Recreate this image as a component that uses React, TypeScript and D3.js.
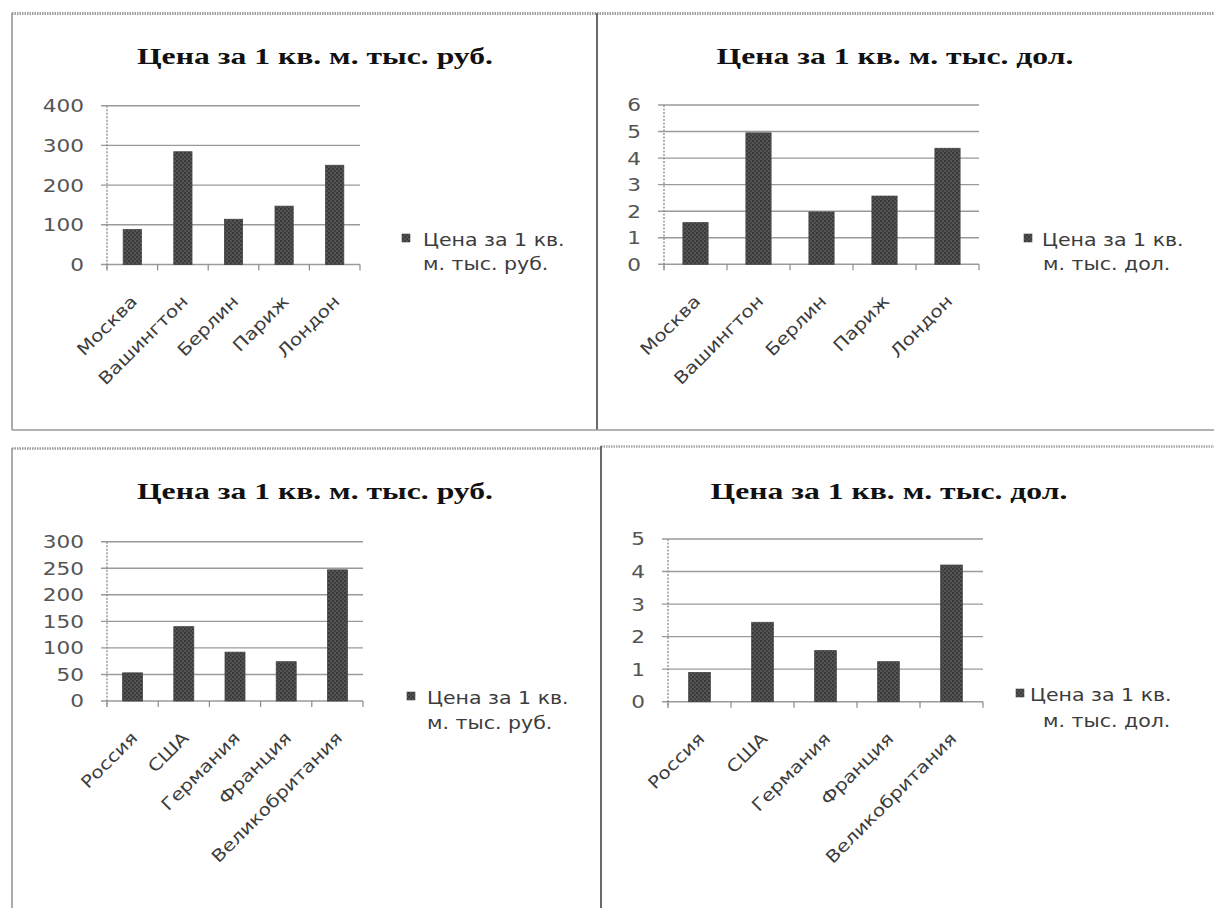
import React from "react";
import * as d3 from "d3";

// ---------- data ----------
const cityCategories = ["Москва", "Вашингтон", "Берлин", "Париж", "Лондон"];
const cityPriceRub = [88, 284, 114, 147, 250];
const cityPriceUsd = [1.57, 4.95, 1.97, 2.57, 4.37];

const countryCategories = ["Россия", "США", "Германия", "Франция", "Великобритания"];
const countryPriceRub = [53, 140, 92, 74, 247];
const countryPriceUsd = [0.9, 2.44, 1.57, 1.23, 4.2];

const ticksRubCities = [0, 100, 200, 300, 400];
const ticksUsdCities = [0, 1, 2, 3, 4, 5, 6];
const ticksRubCountries = [0, 50, 100, 150, 200, 250, 300];
const ticksUsdCountries = [0, 1, 2, 3, 4, 5];

const titleRub = "Цена за 1 кв. м. тыс. руб.";
const titleUsd = "Цена за 1 кв. м. тыс. дол.";
const legendRub = ["Цена за 1 кв.", "м. тыс. руб."];
const legendUsd = ["Цена за 1 кв.", "м. тыс. дол."];

// ---------- layout ----------
type Spec = {
  categories: string[];
  values: number[];
  ticks: number[];
  title: string;
  legend: string[];
  x0: number;
  x1: number;
  y0: number;
  yTop: number;
  pad: number;
  titleX: number;
  titleY: number;
  legSqX: number;
  legSqY: number;
  legTextX: number;
  legLine2X: number;
  legY1: number;
  legY2: number;
};

const specs: Spec[] = [
  {
    categories: cityCategories, values: cityPriceRub, ticks: ticksRubCities,
    title: titleRub, legend: legendRub,
    x0: 107, x1: 360, y0: 264.5, yTop: 105.7, pad: 0.64,
    titleX: 315, titleY: 64,
    legSqX: 402, legSqY: 234, legTextX: 423, legLine2X: 423, legY1: 246, legY2: 270,
  },
  {
    categories: cityCategories, values: cityPriceUsd, ticks: ticksUsdCities,
    title: titleUsd, legend: legendUsd,
    x0: 664, x1: 979, y0: 264.3, yTop: 105, pad: 0.6,
    titleX: 895, titleY: 64,
    legSqX: 1024, legSqY: 234, legTextX: 1042, legLine2X: 1043, legY1: 246, legY2: 270,
  },
  {
    categories: countryCategories, values: countryPriceRub, ticks: ticksRubCountries,
    title: titleRub, legend: legendRub,
    x0: 107, x1: 363, y0: 701, yTop: 541.7, pad: 0.61,
    titleX: 315, titleY: 499,
    legSqX: 407, legSqY: 692, legTextX: 427, legLine2X: 427, legY1: 704, legY2: 729,
  },
  {
    categories: countryCategories, values: countryPriceUsd, ticks: ticksUsdCountries,
    title: titleUsd, legend: legendUsd,
    x0: 668, x1: 983, y0: 701.7, yTop: 539, pad: 0.656,
    titleX: 889, titleY: 499,
    legSqX: 1016, legSqY: 689, legTextX: 1030, legLine2X: 1043, legY1: 701, legY2: 727,
  },
];

const AXIS_FONT = "'DejaVu Sans', 'Open Sans', sans-serif";
const TITLE_FONT = "'Liberation Serif', 'Times New Roman', serif";
const GRID = "#9a9a9a";
const TEXT_GRAY = "#555555";

function SText({
  x, y, sx = 1, rotate = 0, anchor = "start", size, family, weight = "normal", fill, dy, children,
}: any) {
  return (
    <g transform={`translate(${x},${y}) rotate(${rotate}) scale(${sx},1)`}>
      <text
        textAnchor={anchor}
        fontSize={size}
        fontFamily={family}
        fontWeight={weight}
        fill={fill}
        dy={dy}
      >
        {children}
      </text>
    </g>
  );
}

function BarChart({ spec, idx }: { spec: Spec; idx: number }) {
  const x = d3
    .scaleBand<string>()
    .domain(spec.categories)
    .range([spec.x0, spec.x1])
    .paddingInner(spec.pad)
    .paddingOuter(spec.pad / 2);
  const yMax = spec.ticks[spec.ticks.length - 1];
  const y = d3.scaleLinear().domain([0, yMax]).range([spec.y0, spec.yTop]);
  const step = x.step();
  const bounds = d3.range(spec.categories.length + 1).map((i) => spec.x0 + i * step);
  const patId = `dots${idx}`;

  return (
    <g>
      <defs>
        <pattern id={patId} width={4} height={4} patternUnits="userSpaceOnUse">
          <rect width={4} height={4} fill="#545454" />
          <circle cx={1} cy={1} r={0.9} fill="#2c2c2c" />
          <circle cx={3} cy={3} r={0.9} fill="#353535" />
        </pattern>
      </defs>

      {/* title */}
      <SText x={spec.titleX} y={spec.titleY} sx={1.32} anchor="middle" size={24}
        family={TITLE_FONT} weight="bold" fill="#111">
        {spec.title}
      </SText>

      {/* gridlines + y ticks */}
      {spec.ticks.map((t) => (
        <g key={`g${t}`}>
          <line x1={spec.x0 - 6} x2={spec.x1} y1={y(t)} y2={y(t)} stroke={GRID} strokeWidth={1.4} />
          <SText x={spec.x0 - 23} y={y(t)} sx={1.2} anchor="end" size={18}
            family={AXIS_FONT} fill={TEXT_GRAY} dy="0.36em">
            {String(t)}
          </SText>
        </g>
      ))}

      {/* y axis */}
      <line x1={spec.x0} x2={spec.x0} y1={spec.yTop} y2={spec.y0 + 6}
        stroke="#8a8a8a" strokeWidth={1.3} strokeDasharray="2 1.5" />

      {/* x axis ticks */}
      {bounds.map((b, i) => (
        <line key={`xt${i}`} x1={b} x2={b} y1={spec.y0} y2={spec.y0 + 6} stroke="#8a8a8a" strokeWidth={1.2} />
      ))}

      {/* bars */}
      {spec.categories.map((c, i) => (
        <rect key={c} x={x(c)} y={y(spec.values[i])} width={x.bandwidth()}
          height={spec.y0 - y(spec.values[i])} fill={`url(#${patId})`} stroke="#444" strokeWidth={0.8} />
      ))}

      {/* category labels */}
      {spec.categories.map((c) => (
        <SText key={`l${c}`} x={(x(c) as number) + x.bandwidth() / 2 + 6} y={spec.y0 + 38}
          rotate={-45} sx={1.18} anchor="end" size={17} family={AXIS_FONT} fill="#3c3c3c">
          {c}
        </SText>
      ))}

      {/* legend */}
      <rect x={spec.legSqX} y={spec.legSqY} width={8} height={8} fill={`url(#${patId})`} stroke="#444" strokeWidth={0.6} />
      <SText x={spec.legTextX} y={spec.legY1} sx={1.14} size={18} family={AXIS_FONT} fill="#3c3c3c">
        {spec.legend[0]}
      </SText>
      <SText x={spec.legLine2X} y={spec.legY2} sx={1.14} size={18} family={AXIS_FONT} fill="#3c3c3c">
        {spec.legend[1]}
      </SText>
    </g>
  );
}

export default function App() {
  return (
    <svg
      width={1214}
      height={908}
      viewBox="0 0 1214 908"
      style={{ position: "absolute", left: 0, top: 0, background: "#fff" }}
    >
      <rect width={1214} height={908} fill="#fff" />

      {/* panel frames */}
      <line x1={12} x2={1214} y1={13.5} y2={13.5} stroke="#a0a0a0" strokeWidth={3} strokeDasharray="1.5 1" />
      <line x1={12} x2={12} y1={13} y2={430} stroke="#8f8f8f" strokeWidth={1.5} />
      <line x1={597} x2={597} y1={13} y2={430} stroke="#6a6a6a" strokeWidth={2} />
      <line x1={12} x2={1214} y1={430} y2={430} stroke="#9a9a9a" strokeWidth={1.5} />

      <line x1={12} x2={601} y1={448.5} y2={448.5} stroke="#9a9a9a" strokeWidth={2.5} strokeDasharray="1.5 1" />
      <line x1={601} x2={1214} y1={446.5} y2={446.5} stroke="#a8a8a8" strokeWidth={2.5} strokeDasharray="1.5 1" />
      <line x1={12} x2={12} y1={448} y2={908} stroke="#8f8f8f" strokeWidth={1.5} />
      <line x1={601} x2={601} y1={446} y2={908} stroke="#6a6a6a" strokeWidth={2} />

      {specs.map((s, i) => (
        <BarChart key={i} spec={s} idx={i} />
      ))}
    </svg>
  );
}
